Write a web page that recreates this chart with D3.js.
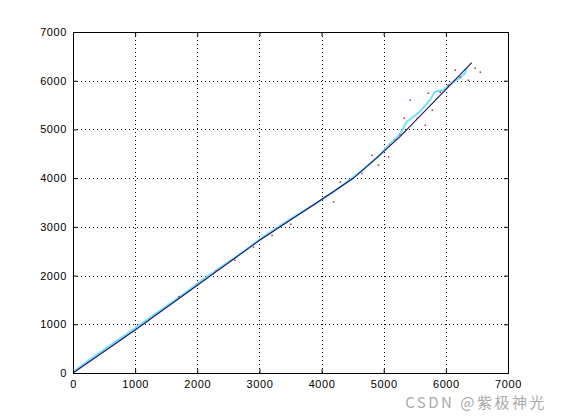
<!DOCTYPE html>
<html><head><meta charset="utf-8">
<script src="https://cdn.jsdelivr.net/npm/d3@7/dist/d3.min.js"></script>
<style>body{margin:0;background:#fff}svg{display:block}</style>
</head><body>
<svg id="c" width="561" height="420"></svg>
<script>
const xTicks = [0,1000,2000,3000,4000,5000,6000,7000];
const yTicks = [0,1000,2000,3000,4000,5000,6000,7000];
// reference (navy) trajectory
const refX = [0,1000,1856,3009,3787,4511,4967,5262,5986,6416];
const refY = [0,883,1669,2730,3381,3997,4510,4851,5804,6370];
// measured (cyan) trajectory
const measX = [0,300,600,900,1200,1500,1800,2100,2400,2700,3000,3300,3600,3900,4200,4500,4700,4900,5100,5262,5370,5470,5584,5650,5745,5825,5959,6120,6230,6308,6335];
const measY = [20,300,570,830,1100,1370,1640,1930,2190,2450,2740,3000,3240,3470,3720,4010,4210,4430,4700,4900,5159,5250,5365,5470,5605,5775,5810,5980,6060,6152,6255];
// scattered noisy observations (red)
const dotX = [5713,5777,5906,6035,6147,6228,6357,6469,6550,5327,5262,5182,5101,5423,5536,5665,4189,4297,4646,4807,4913,5074,3867,3500,3200,2900,2600,2300,2000,1700,1300];
const dotY = [5748,5399,5769,5913,6220,6077,6015,6262,6180,5235,4886,4783,4681,5605,5235,5091,3517,3927,4099,4475,4270,4440,3449,3060,2830,2590,2320,2100,1820,1570,1170];

const svg = d3.select("#c");
const L=73,R=508,T=32,B=373;
const x = d3.scaleLinear().domain([0,7000]).range([L,R]);
const y = d3.scaleLinear().domain([0,7000]).range([B,T]);
const font = "'Liberation Sans', Arial, sans-serif";

// grid
const g = svg.append("g");
xTicks.slice(1,-1).forEach(t=>g.append("line").attr("x1",Math.round(x(t))+0.5).attr("x2",Math.round(x(t))+0.5).attr("y1",T).attr("y2",B)
  .attr("stroke","#000").attr("stroke-width",1).attr("stroke-dasharray","1,3"));
yTicks.slice(1,-1).forEach(t=>g.append("line").attr("y1",Math.round(y(t))+0.5).attr("y2",Math.round(y(t))+0.5).attr("x1",L).attr("x2",R)
  .attr("stroke","#000").attr("stroke-width",1).attr("stroke-dasharray","1,3"));

// data
const line = d3.line().x(d=>x(d[0])).y(d=>y(d[1]));
svg.append("path").datum(measX.map((v,i)=>[v,measY[i]])).attr("d",line)
  .attr("fill","none").attr("stroke","#70e4f4").attr("stroke-width",2);
svg.append("path").datum(refX.map((v,i)=>[v,refY[i]])).attr("d",line)
  .attr("fill","none").attr("stroke","#1a1070").attr("stroke-width",1.1);
svg.selectAll("rect.d").data(dotX.map((v,i)=>[v,dotY[i]])).enter().append("rect")
  .attr("x",d=>x(d[0])-0.5).attr("y",d=>y(d[1])-0.5).attr("width",1.5).attr("height",1.5).attr("fill","#c02050");

// axes box with inward ticks
const axB = d3.axisBottom(x).tickValues(xTicks).tickSize(-4).tickPadding(7).tickFormat(d3.format("d"));
const axL = d3.axisLeft(y).tickValues(yTicks).tickSize(-4).tickPadding(6).tickFormat(d3.format("d"));
const axT = d3.axisTop(x).tickValues(xTicks).tickSize(-4).tickFormat("");
const axR = d3.axisRight(y).tickValues(yTicks).tickSize(-4).tickFormat("");
[[axB,`translate(0,${B})`],[axL,`translate(${L},0)`],[axT,`translate(0,${T})`],[axR,`translate(${R},0)`]].forEach(([a,tr])=>{
  const gg = svg.append("g").attr("transform",tr).call(a);
  gg.selectAll("text").attr("font-family",font).attr("font-size",11).attr("letter-spacing",0.6).attr("fill","#000");
  gg.select(".domain").attr("stroke","#000");
  gg.selectAll(".tick line").attr("stroke","#000");
});

svg.append("text").attr("x",547).attr("y",408).attr("text-anchor","end")
  .attr("font-family","'Noto Sans CJK SC', 'Liberation Sans', sans-serif").attr("font-size",15)
  .attr("letter-spacing",2.5).attr("fill","#aaaaaa").text("CSDN @紫极神光");
</script>
</body></html>
